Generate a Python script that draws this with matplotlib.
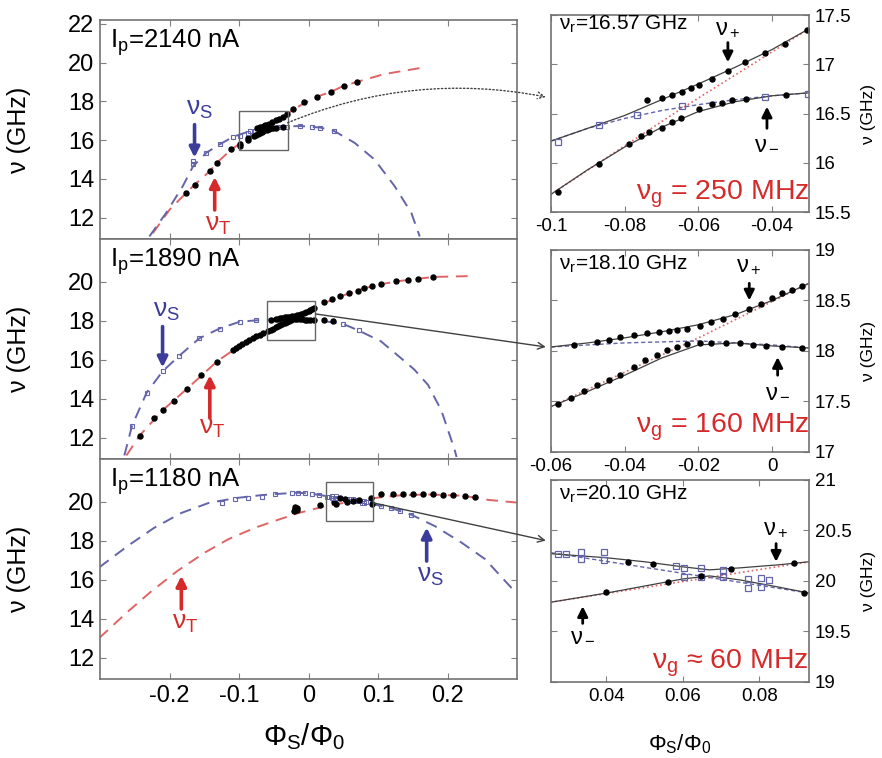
import numpy as np
import matplotlib
matplotlib.use('Agg')
import matplotlib.pyplot as plt
from matplotlib.patches import Rectangle, ConnectionPatch
from matplotlib.ticker import FuncFormatter

plt.rcParams['font.family'] = ['Liberation Sans', 'DejaVu Sans']
plt.rcParams['mathtext.fontset'] = 'custom'
plt.rcParams['mathtext.rm'] = 'Liberation Sans'
plt.rcParams['mathtext.it'] = 'Liberation Sans'
plt.rcParams['axes.unicode_minus'] = False

RED = '#e06464'
BLUE = '#6464aa'
RED_TXT = '#d62a2a'
BLUE_TXT = '#3c3c9a'

# ---------------- left panels: wide flux range ----------------
# Ip = 2140 nA
p1_T_phi = [-0.224, -0.2, -0.176, -0.164, -0.142, -0.132, -0.111, -0.099, -0.087, -0.06, -0.03, -0.007, 0.0126,
            0.032, 0.051, 0.07, 0.109, 0.167]
p1_T_nu = [11.2, 12.41, 13.28, 13.7, 14.4, 14.83, 15.52, 15.82, 16.13, 16.72, 17.38, 17.9, 18.25,
           18.49, 18.81, 19.01, 19.41, 19.76]
p1_S_phi = [-0.229, -0.205, -0.181, -0.166, -0.147, -0.128, -0.108, -0.084, -0.06, -0.03, -0.0116, 0.017, 0.037,
            0.066, 0.095, 0.124, 0.148, 0.16]
p1_S_nu = [11.03, 12.24, 13.62, 14.66, 15.35, 15.78, 16.18, 16.47, 16.6, 16.71, 16.73, 16.65, 16.47,
           15.87, 15.0, 13.62, 12.24, 11.03]
p1_dot_phi = [-0.176, -0.164, -0.142, -0.132, -0.111, -0.099, -0.087, -0.022, -0.007, 0.0126, 0.032, 0.051, 0.07]
p1_dot_nu = [13.28, 13.7, 14.4, 14.83, 15.52, 15.82, 16.13, 17.62, 17.95, 18.25, 18.49, 18.81, 19.01]
p1_sq_phi = [-0.166, -0.166, -0.147, -0.128, -0.108, -0.084, -0.0116, 0.005, 0.017, 0.037]
p1_sq_nu = [14.75, 14.9, 15.35, 15.78, 16.18, 16.47, 16.73, 16.7, 16.65, 16.47]

# Ip = 1890 nA
p2_T_phi = [-0.262, -0.243, -0.21, -0.175, -0.132, -0.1, -0.06, -0.03, 0.0, 0.022, 0.05, 0.08, 0.104, 0.126, 0.158,
            0.18, 0.239]
p2_T_nu = [11.08, 12.1, 13.4, 14.5, 15.9, 16.7, 17.45, 18.0, 18.52, 18.9, 19.3, 19.67, 19.87, 20.02, 20.16,
           20.25, 20.3]
p2_S_phi = [-0.265, -0.254, -0.233, -0.21, -0.186, -0.157, -0.128, -0.099, -0.065, -0.03, 0.0, 0.022, 0.049, 0.072,
            0.104, 0.129, 0.152, 0.172, 0.191, 0.21, 0.213]
p2_S_nu = [11.08, 12.6, 14.3, 15.4, 16.2, 17.1, 17.6, 17.95, 18.05, 18.1, 18.05, 17.98, 17.85, 17.5,
           16.95, 16.2, 15.5, 14.7, 13.4, 11.4, 11.0]
p2_dot_phi = [-0.243, -0.222, -0.21, -0.193, -0.175, -0.154, -0.132, -0.109, -0.104, -0.1, -0.095, -0.09, -0.085,
              -0.08, -0.075, -0.07, -0.065, 0.022, 0.034, 0.046, 0.058, 0.071, 0.080, 0.092, 0.104, 0.126, 0.143,
              0.158, 0.179, 0.022, 0.035]
p2_dot_nu = [12.1, 13.0, 13.4, 13.9, 14.5, 15.2, 15.9, 16.5, 16.6, 16.7, 16.8, 16.9, 17.0,
             17.1, 17.2, 17.28, 17.36, 18.95, 19.1, 19.25, 19.42, 19.55, 19.67, 19.78, 19.87, 20.02, 20.09,
             20.16, 20.25, 18.05, 17.98]
p2_sq_phi = [-0.254, -0.233, -0.21, -0.186, -0.157, -0.128, -0.099, -0.075, 0.049, 0.072]
p2_sq_nu = [12.6, 14.3, 15.4, 16.2, 17.1, 17.6, 17.95, 18.05, 17.85, 17.5]

# Ip = 1180 nA
p3_T_phi = [-0.301, -0.26, -0.227, -0.188, -0.149, -0.1155, -0.077, -0.043, -0.014, 0.0255, 0.067, 0.093, 0.13,
            0.17, 0.22, 0.24, 0.259, 0.298]
p3_T_nu = [13.01, 14.36, 15.38, 16.47, 17.40, 18.08, 18.67, 19.09, 19.43, 19.79, 20.05, 20.19, 20.33,
           20.38, 20.32, 20.22, 20.1, 19.97]
p3_S_phi = [-0.301, -0.26, -0.222, -0.183, -0.144, -0.106, -0.067, -0.019, 0.0, 0.0255, 0.06, 0.093, 0.119, 0.148,
            0.182, 0.22, 0.254, 0.293]
p3_S_nu = [16.64, 17.74, 18.67, 19.43, 19.94, 20.19, 20.35, 20.47, 20.44, 20.3, 20.1, 19.88, 19.68, 19.34,
           18.75, 17.91, 17.06, 15.54]
p3_dot_phi = [-0.021, -0.019, -0.017, -0.02, -0.016, 0.017, 0.036, 0.104, 0.121, 0.136, 0.15, 0.165, 0.179, 0.194,
              0.208, 0.225, 0.24]
p3_dot_nu = [19.55, 19.65, 19.6, 19.72, 19.7, 19.85, 20.0, 20.4, 20.4, 20.4, 20.4, 20.4, 20.38, 20.37,
             20.35, 20.3, 20.24]
p3_sq_phi = [-0.125, -0.106, -0.087, -0.067, -0.048, -0.024, -0.015, -0.005, 0.005, 0.015, 0.104, 0.119, 0.132, 0.148]
p3_sq_nu = [19.93, 20.14, 20.19, 20.27, 20.39, 20.44, 20.45, 20.44, 20.4, 20.35, 19.8, 19.68, 19.55, 19.34]

# ---------------- right panels: zoom on the anticrossings ----------------
a_plus_phi = [-0.0739, -0.0698, -0.0671, -0.0644, -0.0621, -0.0598, -0.0564, -0.0519, -0.0474, -0.0419, -0.0365, -0.0305]
a_plus_nu = [16.64, 16.66, 16.69, 16.72, 16.76, 16.79, 16.85, 16.93, 17.02, 17.11, 17.21, 17.35]
a_minus_phi = [-0.098, -0.087, -0.0788, -0.0757, -0.0734, -0.0698, -0.0671, -0.0648, -0.0598, -0.0562, -0.0535,
               -0.0508, -0.0472, -0.0363]
a_minus_nu = [15.70, 15.99, 16.19, 16.27, 16.31, 16.35, 16.41, 16.45, 16.55, 16.60, 16.61, 16.64, 16.65, 16.69]
a_sq_phi = [-0.098, -0.087, -0.0767, -0.0644, -0.0418, -0.0303]
a_sq_nu = [16.21, 16.38, 16.48, 16.58, 16.67, 16.70]
a_fit_phi = [-0.1, -0.09, -0.08, -0.07, -0.06, -0.05, -0.04, -0.03]
a_fit_up = [16.22, 16.35, 16.48, 16.64, 16.80, 16.97, 17.15, 17.36]
a_fit_lo = [15.68, 15.93, 16.16, 16.36, 16.52, 16.62, 16.68, 16.71]
a_S_nu = [16.22, 16.35, 16.45, 16.53, 16.59, 16.64, 16.68, 16.71]
a_T_phi = [-0.1, -0.065, -0.03]
a_T_nu = [15.68, 16.54, 17.36]

b_plus_phi = [-0.0537, -0.0474, -0.0443, -0.0412, -0.0376, -0.034, -0.0308, -0.0281, -0.0259, -0.0232, -0.0196,
              -0.0165, -0.0133, -0.0102, -0.0062, -0.003, 0.0001, 0.0028, 0.0055, 0.0082]
b_plus_nu = [18.06, 18.09, 18.11, 18.14, 18.16, 18.18, 18.19, 18.20, 18.21, 18.22, 18.25,
             18.29, 18.32, 18.37, 18.42, 18.47, 18.52, 18.57, 18.60, 18.64]
b_minus_phi = [-0.0582, -0.0546, -0.051, -0.0474, -0.0443, -0.0412, -0.0376, -0.0344, -0.0313, -0.0286, -0.0259,
               -0.0232, -0.0196, -0.0165, -0.0125, -0.0088, -0.0053, -0.0017, 0.0028, 0.0082]
b_minus_nu = [17.48, 17.53, 17.60, 17.66, 17.71, 17.76, 17.84, 17.91, 17.96, 18.01, 18.04,
              18.07, 18.08, 18.08, 18.08, 18.08, 18.06, 18.05, 18.04, 18.03]
b_fit_phi = [-0.06, -0.05, -0.04, -0.03, -0.02, -0.01, 0.0, 0.01]
b_fit_up = [18.04, 18.08, 18.13, 18.19, 18.26, 18.36, 18.5, 18.67]
b_fit_lo = [17.45, 17.6, 17.76, 17.93, 18.06, 18.08, 18.05, 18.03]
b_S_phi = [-0.06, -0.04, -0.02, 0.0, 0.01]
b_S_nu = [18.04, 18.08, 18.1, 18.06, 18.03]
b_T_phi = [-0.06, -0.02, 0.01]
b_T_nu = [17.45, 18.13, 18.67]

c_plus_phi = [0.0456, 0.0521, 0.0726, 0.0892]
c_plus_nu = [20.19, 20.17, 20.12, 20.18]
c_minus_phi = [0.0399, 0.056, 0.0647, 0.0916]
c_minus_nu = [19.89, 19.99, 20.05, 19.88]
c_sq_phi = [0.0273, 0.0294, 0.0333, 0.0333, 0.0394, 0.0394, 0.0582, 0.0604, 0.0604, 0.0647, 0.0647, 0.0704, 0.0704,
            0.077, 0.077, 0.0805, 0.0805, 0.0826]
c_sq_nu = [20.27, 20.27, 20.29, 20.22, 20.29, 20.21, 20.15, 20.13, 20.04, 20.13, 20.04, 20.11, 20.04,
           20.02, 19.93, 20.03, 19.94, 20.01]
c_fit_phi = [0.0255, 0.04, 0.05, 0.06, 0.067, 0.075, 0.085, 0.093]
c_fit_up = [20.27, 20.23, 20.19, 20.14, 20.11, 20.13, 20.16, 20.19]
c_fit_lo = [19.79, 19.88, 19.95, 20.02, 20.05, 20.01, 19.94, 19.88]
c_S_phi = [0.0255, 0.093]
c_S_nu = [20.28, 19.88]
c_T_phi = [0.0255, 0.093]
c_T_nu = [19.79, 20.19]

ip_labels = ['2140', '1890', '1180']
nu_r_labels = ['16.57', '18.10', '20.10']
gap_labels = ['= 250 MHz', '= 160 MHz', '\u2248 60 MHz']
right_xlims = [(-0.1, -0.03), (-0.06, 0.01), (0.0255, 0.093)]
right_ylims = [(15.5, 17.5), (17, 19), (19, 21)]
right_xticks = [[-0.1, -0.08, -0.06, -0.04], [-0.06, -0.04, -0.02, 0], [0.04, 0.06, 0.08]]

fmt = FuncFormatter(lambda v, p: '%g' % v)

fig = plt.figure(figsize=(8.82, 7.58), dpi=100)
left_rects = [[0.1134, 0.6847, 0.4728, 0.2889], [0.1134, 0.3945, 0.4728, 0.2902], [0.1134, 0.1042, 0.4728, 0.2902]]
right_rects = [[0.6247, 0.7203, 0.2925, 0.2599], [0.6247, 0.4037, 0.2925, 0.2665], [0.6247, 0.1003, 0.2925, 0.2665]]


def style(ax, size):
    for s in ax.spines.values():
        s.set_color('0.45')
        s.set_linewidth(1.2)
    ax.tick_params(direction='in', length=4, color='0.5', top=True, right=True, labelsize=size, pad=4)


def arrow(ax, x, y0, y1, color, lw=2.6):
    ax.annotate('', xy=(x, y1), xytext=(x, y0),
                arrowprops=dict(arrowstyle='-|>', color=color, lw=lw, mutation_scale=15, shrinkA=0, shrinkB=0))


left_data = [
    (p1_T_phi, p1_T_nu, p1_S_phi, p1_S_nu, p1_dot_phi, p1_dot_nu, p1_sq_phi, p1_sq_nu),
    (p2_T_phi, p2_T_nu, p2_S_phi, p2_S_nu, p2_dot_phi, p2_dot_nu, p2_sq_phi, p2_sq_nu),
    (p3_T_phi, p3_T_nu, p3_S_phi, p3_S_nu, p3_dot_phi, p3_dot_nu, p3_sq_phi, p3_sq_nu),
]
right_data = [
    (a_plus_phi, a_plus_nu, a_minus_phi, a_minus_nu, a_sq_phi, a_sq_nu, a_fit_phi, a_fit_up, a_fit_lo,
     a_fit_phi, a_S_nu, a_T_phi, a_T_nu),
    (b_plus_phi, b_plus_nu, b_minus_phi, b_minus_nu, [], [], b_fit_phi, b_fit_up, b_fit_lo,
     b_S_phi, b_S_nu, b_T_phi, b_T_nu),
    (c_plus_phi, c_plus_nu, c_minus_phi, c_minus_nu, c_sq_phi, c_sq_nu, c_fit_phi, c_fit_up, c_fit_lo,
     c_S_phi, c_S_nu, c_T_phi, c_T_nu),
]

left_axes, right_axes = [], []
for i in range(3):
    ax = fig.add_axes(left_rects[i])
    axr = fig.add_axes(right_rects[i])
    left_axes.append(ax)
    right_axes.append(axr)

    # right (zoom) panel
    (pp, pn, mp, mn, sp, sn, fp, fu, fl, Sp, Sn, Tp, Tn) = right_data[i]
    axr.plot(Tp, Tn, ':', color=RED, lw=1.2)
    axr.plot(Sp, Sn, '--', color=BLUE, lw=1.0, dashes=(3, 2))
    axr.plot(fp, fu, '-', color='0.25', lw=0.9)
    axr.plot(fp, fl, '-', color='0.25', lw=0.9)
    if sp:
        axr.plot(sp, sn, 's', mfc='none', mec=BLUE, ms=4, mew=0.9)
    axr.plot(pp, pn, 'o', color='k', ms=3.6)
    axr.plot(mp, mn, 'o', color='k', ms=3.6)
    axr.set_xlim(*right_xlims[i])
    axr.set_ylim(*right_ylims[i])
    axr.set_xticks(right_xticks[i])
    axr.xaxis.set_major_formatter(fmt)
    axr.yaxis.set_major_formatter(fmt)
    axr.yaxis.tick_right()
    style(axr, 13.5)
    axr.tick_params(left=True, labelleft=False, labelright=True)
    axr.set_ylabel('\u03bd (GHz)', fontsize=12.5)
    axr.yaxis.set_label_position('right')
    axr.yaxis.set_label_coords(1.2, 0.5)
    axr.text(0.03, 0.955 if i == 0 else 0.93, '\u03bd$_\\mathrm{r}$=' + nu_r_labels[i] + ' GHz',
             transform=axr.transAxes, fontsize=15, va='center', ha='left')
    axr.text(1.0, 0.09 if i != 1 else 0.12, '\u03bd$_\\mathrm{g}$ ' + gap_labels[i], transform=axr.transAxes,
             fontsize=20.5, color=RED_TXT, va='center', ha='right')

    # left (wide) panel
    (Tp, Tn, Sp, Sn, dp, dn, qp, qn) = left_data[i]
    ax.plot(Tp, Tn, '--', color=RED, lw=1.4, dashes=(6, 4))
    ax.plot(Sp, Sn, '--', color=BLUE, lw=1.4, dashes=(6, 4))
    ax.plot(qp, qn, 's', mfc='none', mec=BLUE, ms=3.5, mew=0.8)
    ax.plot(dp, dn, 'o', color='k', ms=3.6)
    if sp:
        ax.plot(sp, sn, 's', mfc='none', mec=BLUE, ms=3, mew=0.7)
    ax.plot(pp, pn, 'o', color='k', ms=3.6)
    ax.plot(mp, mn, 'o', color='k', ms=3.6)
    xl, yl = right_xlims[i], right_ylims[i]
    ax.add_patch(Rectangle((xl[0], yl[0]), xl[1] - xl[0], yl[1] - yl[0], fill=False, ec='0.4', lw=1.0, zorder=5))
    ax.set_xlim(-0.3, 0.3)
    ax.set_ylim(10.9, 22.2)
    ax.set_xticks([-0.2, -0.1, 0, 0.1, 0.2])
    ax.set_yticks([12, 14, 16, 18, 20, 22] if i == 0 else [12, 14, 16, 18, 20])
    ax.xaxis.set_major_formatter(fmt)
    style(ax, 17)
    if i < 2:
        ax.tick_params(labelbottom=False)
    ax.set_ylabel('\u03bd (GHz)', fontsize=18)
    ax.yaxis.set_label_coords(-0.165, 0.5)
    ax.text(0.024, 0.895, 'I$_\\mathrm{p}$=' + ip_labels[i] + ' nA', transform=ax.transAxes,
            fontsize=18.5, va='center', ha='left')

left_axes[2].set_xlabel('$\\Phi_\\mathrm{S}/\\Phi_\\mathrm{0}$', fontsize=21)
left_axes[2].xaxis.set_label_coords(0.49, -0.19)
right_axes[2].set_xlabel('$\\Phi_\\mathrm{S}/\\Phi_\\mathrm{0}$', fontsize=16)
right_axes[2].xaxis.set_label_coords(0.5, -0.25)

# arrows marking the branches, left panels
ax1, ax2, ax3 = left_axes
arrow(ax1, -0.164, 16.8, 15.1, BLUE_TXT)
ax1.text(-0.157, 17.6, '\u03bd$_\\mathrm{S}$', color=BLUE_TXT, fontsize=19, ha='center', va='center')
arrow(ax1, -0.135, 12.4, 14.1, RED_TXT)
ax1.text(-0.13, 11.6, '\u03bd$_\\mathrm{T}$', color=RED_TXT, fontsize=19, ha='center', va='center')
arrow(ax2, -0.21, 17.7, 15.6, BLUE_TXT)
ax2.text(-0.204, 18.5, '\u03bd$_\\mathrm{S}$', color=BLUE_TXT, fontsize=19, ha='center', va='center')
arrow(ax2, -0.142, 13.0, 15.2, RED_TXT)
ax2.text(-0.138, 12.5, '\u03bd$_\\mathrm{T}$', color=RED_TXT, fontsize=19, ha='center', va='center')
arrow(ax3, -0.183, 14.5, 16.2, RED_TXT)
ax3.text(-0.178, 13.8, '\u03bd$_\\mathrm{T}$', color=RED_TXT, fontsize=19, ha='center', va='center')
arrow(ax3, 0.17, 16.96, 18.68, BLUE_TXT)
ax3.text(0.175, 16.2, '\u03bd$_\\mathrm{S}$', color=BLUE_TXT, fontsize=19, ha='center', va='center')

# arrows for nu+ / nu- in the zoom panels
axa, axb, axc = right_axes
for axr, xp, yp0, yp1, ylp, xm, ym0, ym1, ylm in [
        (axa, -0.052, 17.22, 17.02, 17.37, -0.0414, 16.35, 16.57, 16.2),
        (axb, -0.0062, 18.67, 18.5, 18.85, 0.0015, 17.76, 17.94, 17.6),
        (axc, 0.0844, 20.37, 20.19, 20.52, 0.0338, 19.58, 19.75, 19.47)]:
    arrow(axr, xp, yp0, yp1, 'k', lw=2.0)
    axr.text(xp, ylp, '\u03bd$_+$', fontsize=17, ha='center', va='center')
    arrow(axr, xm, ym0, ym1, 'k', lw=2.0)
    axr.text(xm, ylm, '\u03bd$_-$', fontsize=17, ha='center', va='center')

# connectors from the boxes to the zoom panels
for axl, axr, xa, ya, yb, ls, rad in [
        (ax1, axa, -0.03, 16.9, 0.584, ':', -0.15),
        (ax2, axb, 0.01, 18.35, 0.52, '-', 0.0),
        (ax3, axc, 0.093, 19.95, 0.70, '-', 0.0)]:
    con = ConnectionPatch(xyA=(xa, ya), coordsA='data', axesA=axl,
                          xyB=(-0.02, yb), coordsB='axes fraction', axesB=axr,
                          arrowstyle='->', linestyle=ls, color='0.25', lw=1.0,
                          connectionstyle='arc3,rad=%g' % rad, mutation_scale=12)
    fig.add_artist(con)

fig.savefig('out.png', dpi=100)
